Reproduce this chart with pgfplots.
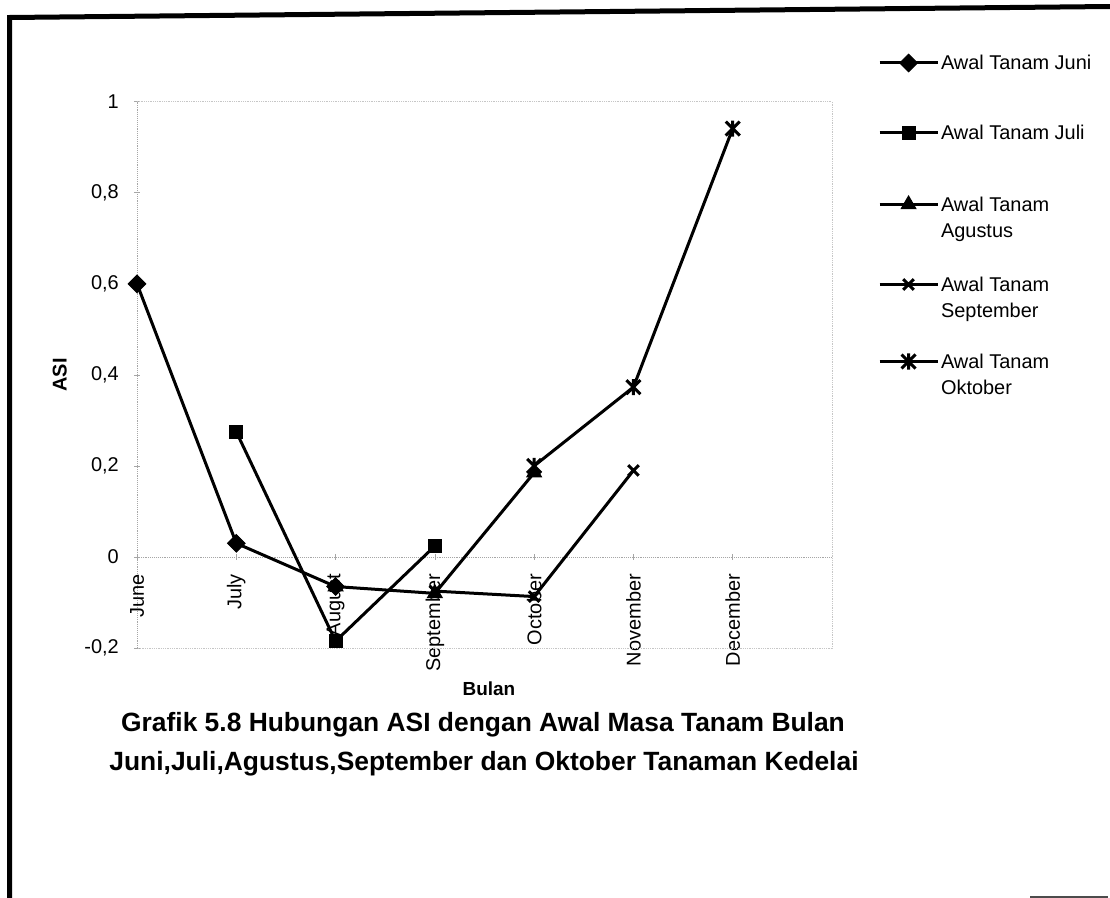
\documentclass[border=0pt]{standalone}
\usepackage{pgfplots}
\pgfplotsset{compat=1.18}
\usepackage{fontspec}
\setmainfont{Liberation Sans}
\pgfdeclareplotmark{xstar}{%
  \pgfpathmoveto{\pgfqpoint{-\pgfplotmarksize}{-\pgfplotmarksize}}%
  \pgfpathlineto{\pgfqpoint{\pgfplotmarksize}{\pgfplotmarksize}}%
  \pgfpathmoveto{\pgfqpoint{-\pgfplotmarksize}{\pgfplotmarksize}}%
  \pgfpathlineto{\pgfqpoint{\pgfplotmarksize}{-\pgfplotmarksize}}%
  \pgfpathmoveto{\pgfqpoint{0pt}{-1.15\pgfplotmarksize}}%
  \pgfpathlineto{\pgfqpoint{0pt}{1.15\pgfplotmarksize}}%
  \pgfusepathqstroke}
\begin{document}
\begin{tikzpicture}
\fill[white] (0bp,0bp) rectangle (1110bp,-898bp);
\begin{axis}[
  at={(137bp,-648bp)}, anchor=south west,
  scale only axis, width=695bp, height=546.3bp,
  xmin=0, xmax=7, ymin=-0.2, ymax=1,
  clip=false,
  axis x line=middle, axis y line=left,
  hide obscured x ticks=false, hide obscured y ticks=false,
  x axis line style={-, draw=gray!70, densely dotted, line width=0.9bp},
  y axis line style={-, draw=gray!70, densely dotted, line width=0.9bp},
  xtick={0,1,2,3,4,5,6},
  xticklabels={June,July,August,September,October,November,December},
  ytick={-0.2,0,0.2,0.4,0.6,0.8,1},
  yticklabels={{-0,2},{0},{0,2},{0,4},{0,6},{0,8},{1}},
  tick label style={font=\fontsize{20}{20}\selectfont},
  yticklabel style={anchor=east, inner sep=0pt, xshift=-15bp},
  xticklabel style={yshift=-14bp, rotate=90, anchor=east, inner sep=0pt},
  major tick length=6bp, tick align=center,
  tick style={gray!70, line width=0.6bp},
  xlabel={\textbf{Bulan}},
  xlabel style={at={(axis description cs:0.5065,0)}, anchor=center, yshift=-41bp, font=\fontsize{19}{19}\selectfont},
  ylabel={\textbf{ASI}},
  ylabel style={at={(axis description cs:-0.111,0.5)}, anchor=center, font=\fontsize{20}{20}\selectfont},
  legend style={at={(axis description cs:1.066,1.0873)}, anchor=north west,
    draw=none, fill=none, inner sep=0pt, row sep=0pt, column sep=2bp,
    font=\fontsize{20}{26}\selectfont, cells={anchor=base west}, nodes={inner sep=0pt}},
  legend image code/.code={\draw[mark repeat=2,mark phase=2,#1] plot coordinates {(0bp,7bp) (29bp,7bp) (58bp,7bp)};},
]
\addplot[black, line width=3bp, mark=square*, mark size=6.2bp, mark options={solid, rotate=45, line width=1bp, fill=black}]
  coordinates {(0,0.60) (1,0.03) (2,-0.065)};
\addlegendentry[text height=15bp, text depth=55bp]{Awal Tanam Juni}
\addplot[black, line width=3bp, mark=square*, mark size=6.5bp, mark options={solid, line width=1bp, fill=black}]
  coordinates {(1,0.275) (2,-0.185) (3,0.024)};
\addlegendentry[text height=15bp, text depth=56bp]{Awal Tanam Juli}
\addplot[black, line width=3bp, mark=triangle*, mark size=8.5bp, mark options={solid, line width=1bp, fill=black}]
  coordinates {(2,-0.065) (3,-0.08) (4,0.185)};
\addlegendentry[text height=15bp, text depth=65bp]{\parbox[t]{6cm}{Awal Tanam\\Agustus}}
\addplot[black, line width=3bp, mark=x, mark size=7.5bp, mark options={solid, line width=3bp}]
  coordinates {(3,-0.075) (4,-0.087) (5,0.19)};
\addlegendentry[text height=15bp, text depth=62bp]{\parbox[t]{6cm}{Awal Tanam\\September}}
\addplot[black, line width=3bp, mark=xstar, mark size=7bp, mark options={solid, line width=3bp}]
  coordinates {(4,0.20) (5,0.373) (6,0.941)};
\addlegendentry[text height=15bp, text depth=30bp]{\parbox[t]{6cm}{Awal Tanam\\Oktober}}
\draw[gray!45, densely dotted, line width=0.8bp] (rel axis cs:0,1) -- (rel axis cs:1,1) -- (rel axis cs:1,0) -- (rel axis cs:0,0);
\end{axis}
\node[anchor=base, font=\bfseries\fontsize{26.5}{30}\selectfont] at (483bp,-731bp) {Grafik 5.8 Hubungan ASI dengan Awal Masa Tanam Bulan};
\node[anchor=base, font=\bfseries\fontsize{26.5}{30}\selectfont] at (484bp,-770bp) {Juni,Juli,Agustus,September dan Oktober Tanaman Kedelai};
\draw[line width=5bp] (9.5bp,-898bp) -- (9.5bp,-17.5bp) -- (1110bp,-6.5bp);
\draw[gray!60!black, line width=2bp] (1030bp,-897bp) -- (1108bp,-897bp);
\pgfresetboundingbox
\useasboundingbox (0bp,0bp) rectangle (1110bp,-898bp);
\end{tikzpicture}
\end{document}
